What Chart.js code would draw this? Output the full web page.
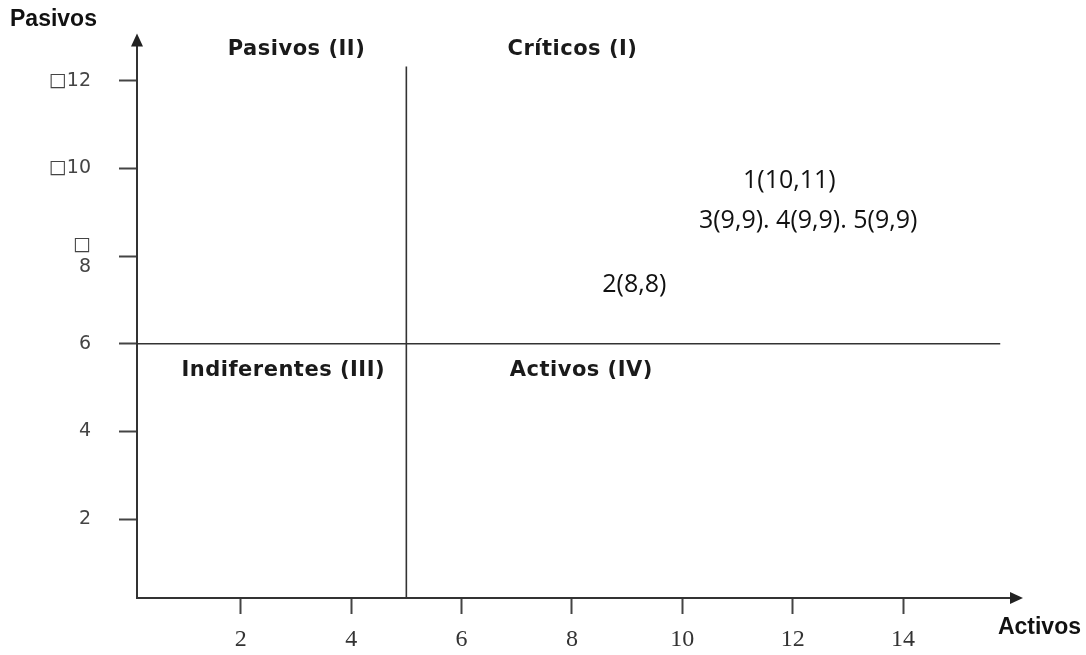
<!DOCTYPE html>
<html>
<head>
<meta charset="utf-8">
<script src="https://cdn.jsdelivr.net/npm/chart.js@4.4.1/dist/chart.umd.min.js"></script>
<style>
  html, body { margin: 0; padding: 0; background: #fff; }
  #wrap { width: 1086px; height: 655px; }
</style>
</head>
<body>
<div id="wrap"><canvas id="matriz"></canvas></div>
<script>
// puntos de la matriz (activos = x, pasivos = y)
const pointIds = ['1', '2', '3', '4', '5'];
const activos = [10, 8, 9, 9, 9];
const pasivos = [11, 8, 9, 9, 9];

// ejes
const xTicks = [2, 4, 6, 8, 10, 12, 14];
const yTicks = [2, 4, 6, 8, 10, 12];
const yTickLabels = ['2', '4', '6', ['\u25a1', '8'], '\u25a110', '\u25a112'];

// cuadrantes
const quadrantNames = ['Críticos (I)', 'Pasivos (II)', 'Indiferentes (III)', 'Activos (IV)'];
const splitActivos = 5;
const splitPasivos = 6;

const pt = i => pointIds[i] + '(' + activos[i] + ',' + pasivos[i] + ')';
const pointTexts = [
  pt(0),
  [2, 3, 4].map(pt).join('. '),
  pt(1)
];

// where each text sits (data units)
const pointTextPos = [[11.94, 9.71], [12.28, 8.80], [9.13, 7.34]];
const quadTextPos = [[8.01, 12.71], [3.01, 12.71], [2.77, 5.39], [8.17, 5.39]];

const textPlugin = {
  id: 'textos',
  afterDraw(chart) {
    const ctx = chart.ctx;
    const xs = chart.scales.x, ys = chart.scales.y;
    const a = chart.chartArea;
    ctx.save();
    // arrow heads
    ctx.fillStyle = '#222';
    ctx.beginPath();
    ctx.moveTo(a.left, a.top - 6);
    ctx.lineTo(a.left - 6, a.top + 7);
    ctx.lineTo(a.left + 6, a.top + 7);
    ctx.closePath();
    ctx.fill();
    ctx.beginPath();
    ctx.moveTo(a.right + 4, a.bottom);
    ctx.lineTo(a.right - 9, a.bottom - 6);
    ctx.lineTo(a.right - 9, a.bottom + 6);
    ctx.closePath();
    ctx.fill();

    ctx.textBaseline = 'middle';
    ctx.textAlign = 'center';
    ctx.fillStyle = '#1a1a1a';
    ctx.font = 'bold 21px "DejaVu Sans"';
    ctx.letterSpacing = '0.5px';
    quadrantNames.forEach((t, i) => {
      ctx.fillText(t, xs.getPixelForValue(quadTextPos[i][0]), ys.getPixelForValue(quadTextPos[i][1]));
    });
    ctx.letterSpacing = '0px';

    ctx.fillStyle = '#111';
    ctx.font = '25px "Open Sans"';
    pointTexts.forEach((t, i) => {
      ctx.fillText(t, xs.getPixelForValue(pointTextPos[i][0]), ys.getPixelForValue(pointTextPos[i][1]));
    });

    ctx.fillStyle = '#111';
    ctx.font = 'bold 23px "Liberation Sans"';
    ctx.textAlign = 'left';
    ctx.fillText('Pasivos', 10, 20);
    ctx.textAlign = 'right';
    ctx.fillText('Activos', 1081, 628);
    ctx.restore();
  }
};

new Chart(document.getElementById('matriz').getContext('2d'), {
  type: 'scatter',
  data: {
    datasets: [
      {
        label: 'vertical',
        data: [{ x: splitActivos, y: 0.2 }, { x: splitActivos, y: 12.32 }],
        showLine: true,
        borderColor: '#333',
        borderWidth: 1.6,
        pointRadius: 0
      },
      {
        label: 'horizontal',
        data: [{ x: 0.12, y: splitPasivos }, { x: 15.76, y: splitPasivos }],
        showLine: true,
        borderColor: '#333',
        borderWidth: 1.6,
        pointRadius: 0
      }
    ]
  },
  options: {
    responsive: true,
    maintainAspectRatio: false,
    animation: false,
    layout: { padding: { top: 38, right: 67, left: 0, bottom: 0 } },
    plugins: {
      legend: { display: false },
      tooltip: { enabled: false }
    },
    scales: {
      x: {
        type: 'linear',
        min: 0.12,
        max: 16.1,
        afterBuildTicks: s => { s.ticks = xTicks.map(v => ({ value: v })); },
        afterFit: s => { s.height = 57; },
        border: { color: '#333', width: 2 },
        grid: { drawOnChartArea: false, drawTicks: true, tickLength: 16, tickColor: '#444', tickWidth: 2 },
        ticks: {
          padding: 11,
          color: '#333',
          font: { family: '"Liberation Serif"', size: 24 },
          maxRotation: 0
        }
      },
      y: {
        type: 'linear',
        min: 0.2,
        max: 12.94,
        afterBuildTicks: s => { s.ticks = yTicks.map(v => ({ value: v })); },
        afterFit: s => { s.width = 137; },
        border: { color: '#333', width: 2 },
        grid: { drawOnChartArea: false, drawTicks: true, tickLength: 18, tickColor: '#444', tickWidth: 2 },
        ticks: {
          padding: 28,
          color: '#444',
          font: { family: '"DejaVu Sans"', size: 19 },
          callback: v => yTickLabels[yTicks.indexOf(v)]
        }
      }
    }
  },
  plugins: [textPlugin]
});
</script>
</body>
</html>
